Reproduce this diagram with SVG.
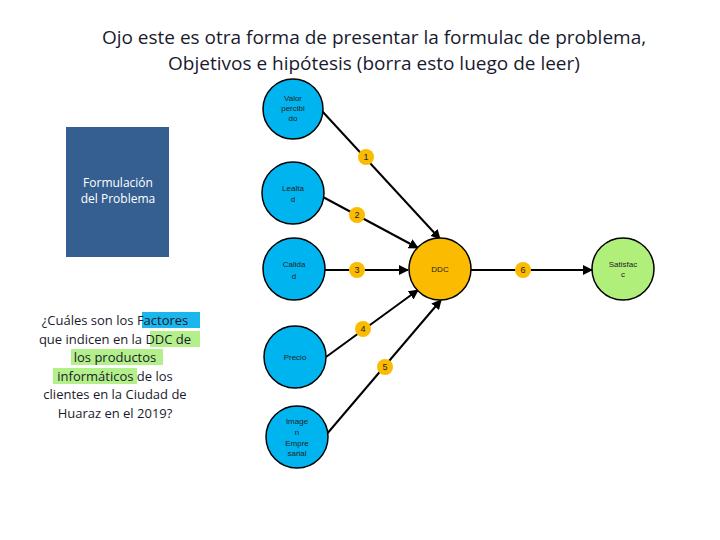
<svg xmlns="http://www.w3.org/2000/svg" width="720" height="540" viewBox="0 0 720 540">
<style>
.t{font-family:"Open Sans","Liberation Sans",sans-serif;fill:#1a1a2e}
.n{stroke:#000;stroke-width:1.5}
.b{fill:#00b5ef}
.s{font-family:"Liberation Sans",sans-serif;font-size:8px;fill:#222;text-anchor:middle}
.g{fill:#fbbb00}
.q{font-family:"Open Sans","Liberation Sans",sans-serif;font-size:13px;fill:#1a1a2e;text-anchor:middle}
</style>
<defs><marker id="a" viewBox="0 0 10 10" refX="9" refY="5" markerWidth="5" markerHeight="5" orient="auto"><path d="M0,0L10,5L0,10z" fill="#000"/></marker></defs>
<rect width="720" height="540" fill="#fff"/>
<text class="t" font-size="19" text-anchor="middle"><tspan x="374" y="44">Ojo este es otra forma de presentar la formulac de problema,</tspan><tspan x="374" y="70">Objetivos e hipótesis (borra esto luego de leer)</tspan></text>
<g id="formulacion"><rect x="66" y="127" width="103" height="130" fill="#365f91"/><text font-family="Open Sans,Liberation Sans,sans-serif" font-size="12" fill="#fff" text-anchor="middle"><tspan x="118" y="187">Formulación</tspan><tspan x="118" y="203">del Problema</tspan></text></g>
<g id="pregunta">
<rect x="142" y="312" width="58" height="16" fill="#1bb6ec"/>
<rect x="150" y="331" width="50" height="16" fill="#b3f08a"/>
<rect x="71" y="349" width="92" height="16" fill="#b3f08a"/>
<rect x="53" y="368" width="84" height="16" fill="#b3f08a"/>
<text class="q"><tspan x="115" y="325">¿Cuáles son los Factores</tspan><tspan x="115" y="344">que indicen en la DDC de</tspan><tspan x="115" y="362">los productos</tspan><tspan x="115" y="381">informáticos  de los</tspan><tspan x="115" y="399">clientes en la Ciudad de</tspan><tspan x="115" y="418">Huaraz en el 2019?</tspan></text></g>
<g id="connectors" stroke="#000" stroke-width="2" fill="none" marker-end="url(#a)">
<line x1="322" y1="111" x2="440" y2="239"/>
<line x1="323" y1="197" x2="418" y2="248"/>
<line x1="325" y1="270" x2="408" y2="270"/>
<line x1="326" y1="357" x2="418" y2="290"/>
<line x1="326" y1="435" x2="441" y2="300"/>
<line x1="471" y1="270" x2="592" y2="270"/>
</g>
<g id="valor"><circle class="n b" cx="293" cy="109" r="30"/><text class="s"><tspan x="293" y="101">Valor</tspan><tspan x="293" y="111">percibi</tspan><tspan x="293" y="121">do</tspan></text></g>
<g id="lealtad"><circle class="n b" cx="293" cy="193" r="31"/><text class="s"><tspan x="293" y="191">Lealta</tspan><tspan x="293" y="202">d</tspan></text></g>
<g id="calidad"><circle class="n b" cx="294" cy="269" r="31"/><text class="s"><tspan x="294" y="267">Calida</tspan><tspan x="294" y="279">d</tspan></text></g>
<g id="precio"><circle class="n b" cx="295" cy="357" r="31"/><text class="s" x="295" y="360">Precio</text></g>
<g id="imagen"><circle class="n b" cx="297" cy="437" r="31"/><text class="s"><tspan x="297" y="424">Image</tspan><tspan x="297" y="435">n</tspan><tspan x="297" y="446">Empre</tspan><tspan x="297" y="456">sarial</tspan></text></g>
<g id="ddc"><circle class="n g" cx="440" cy="269" r="31"/><text class="s" x="440" y="272">DDC</text></g>
<g id="satisfac"><circle class="n" fill="#b0f07a" cx="623" cy="269" r="31"/><text class="s"><tspan x="623" y="267">Satisfac</tspan><tspan x="623" y="277">c</tspan></text></g>
<g id="badges" font-family="Liberation Sans,sans-serif" font-size="9" text-anchor="middle" fill="#222">
<circle class="g" cx="366" cy="157" r="8"/><text x="366" y="160">1</text>
<circle class="g" cx="357" cy="215" r="8"/><text x="357" y="218">2</text>
<circle class="g" cx="357" cy="270" r="8"/><text x="357" y="273">3</text>
<circle class="g" cx="363" cy="329" r="8"/><text x="363" y="332">4</text>
<circle class="g" cx="385" cy="367" r="8"/><text x="385" y="370">5</text>
<circle class="g" cx="523" cy="270" r="8"/><text x="523" y="273">6</text>
</g>
</svg>
